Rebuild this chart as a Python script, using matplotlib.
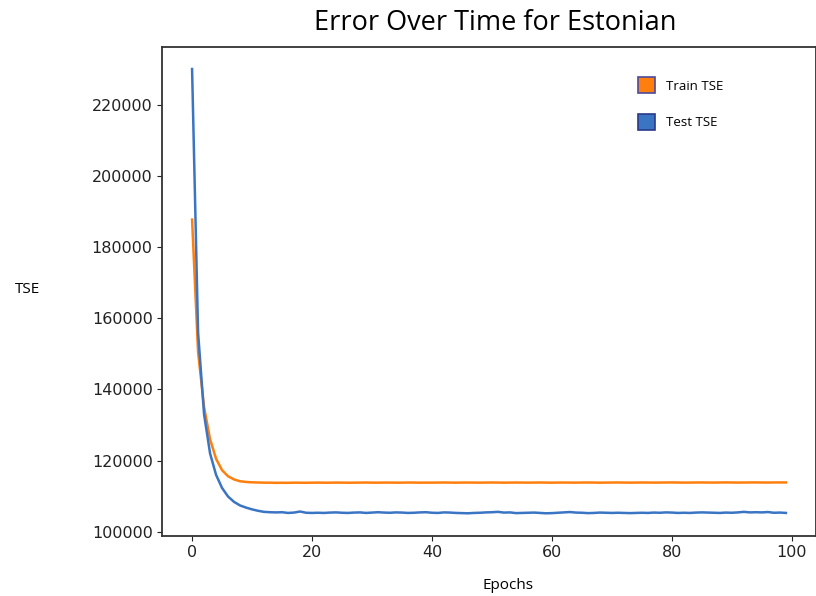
import matplotlib
matplotlib.use("Agg")
import matplotlib.pyplot as plt
from matplotlib.patches import Patch

epochs = list(range(100))

train_tse = [187700, 150500, 135000, 126000, 120500, 117300, 115600, 114700, 114200, 114000,
             113900, 113850, 113800, 113800, 113750, 113780, 113760, 113800, 113790, 113770,
             113800, 113820, 113790, 113800, 113830, 113810, 113790, 113800, 113820, 113840,
             113810, 113800, 113830, 113820, 113800, 113810, 113840, 113830, 113800, 113820,
             113810, 113830, 113850, 113820, 113800, 113830, 113840, 113820, 113810, 113830,
             113850, 113830, 113800, 113820, 113840, 113830, 113810, 113830, 113850, 113820,
             113800, 113830, 113840, 113820, 113810, 113840, 113850, 113830, 113800, 113820,
             113840, 113860, 113830, 113810, 113830, 113850, 113840, 113820, 113830, 113850,
             113870, 113840, 113820, 113830, 113850, 113860, 113840, 113830, 113850, 113870,
             113850, 113830, 113840, 113860, 113870, 113850, 113840, 113860, 113870, 113860]

test_tse = [230000, 156000, 133000, 122000, 116000, 112300, 109900, 108400, 107400, 106800,
            106300, 105900, 105600, 105500, 105450, 105500, 105300, 105400, 105700, 105350,
            105300, 105350, 105300, 105400, 105450, 105350, 105300, 105400, 105450, 105300,
            105400, 105500, 105400, 105350, 105450, 105400, 105300, 105350, 105450, 105500,
            105350, 105300, 105450, 105400, 105300, 105250, 105200, 105300, 105350, 105450,
            105500, 105600, 105400, 105450, 105250, 105300, 105350, 105400, 105300, 105200,
            105250, 105350, 105450, 105550, 105400, 105350, 105250, 105300, 105400, 105350,
            105300, 105350, 105300, 105250, 105300, 105350, 105300, 105400, 105350, 105450,
            105400, 105300, 105350, 105300, 105400, 105450, 105400, 105350, 105300, 105400,
            105350, 105450, 105600, 105450, 105500, 105450, 105550, 105350, 105400, 105300]

train_color = "#ff7f0e"
test_color = "#3a75c4"

fig = plt.figure(figsize=(8.16, 5.96), dpi=100)
ax = fig.add_axes([0.199, 0.1015, 0.8005, 0.820])

ax.plot(epochs, train_tse, color=train_color, lw=1.8)
ax.plot(epochs, test_tse, color=test_color, lw=1.8)

ax.set_yticks([100000, 120000, 140000, 160000, 180000, 200000, 220000])
ax.set_xticks([0, 20, 40, 60, 80, 100])
ax.tick_params(labelsize=11.5, colors="#222222")
for s in ax.spines.values():
    s.set_color("#333333")
    s.set_linewidth(1.3)

label_font = ["Open Sans", "DejaVu Sans"]
fig.text(0.607, 0.962, "Error Over Time for Estonian", ha="center", va="center",
         fontsize=19.5, family=label_font)
fig.text(0.034, 0.515, "TSE", ha="center", va="center", fontsize=11, family=label_font)
fig.text(0.622, 0.018, "Epochs", ha="center", va="center", fontsize=11, family=label_font)

handles = [Patch(facecolor=train_color, edgecolor="#4a4aa0", lw=1.2, label="Train TSE"),
           Patch(facecolor=test_color, edgecolor="#2a3a8a", lw=1.2, label="Test TSE")]
ax.legend(handles=handles, loc="upper left", bbox_to_anchor=(0.710, 0.962), frameon=False,
          handlelength=1.25, handleheight=1.5, handletextpad=0.9, labelspacing=1.55,
          prop={"family": label_font, "size": 9.5})

fig.savefig("out.png", dpi=100)
